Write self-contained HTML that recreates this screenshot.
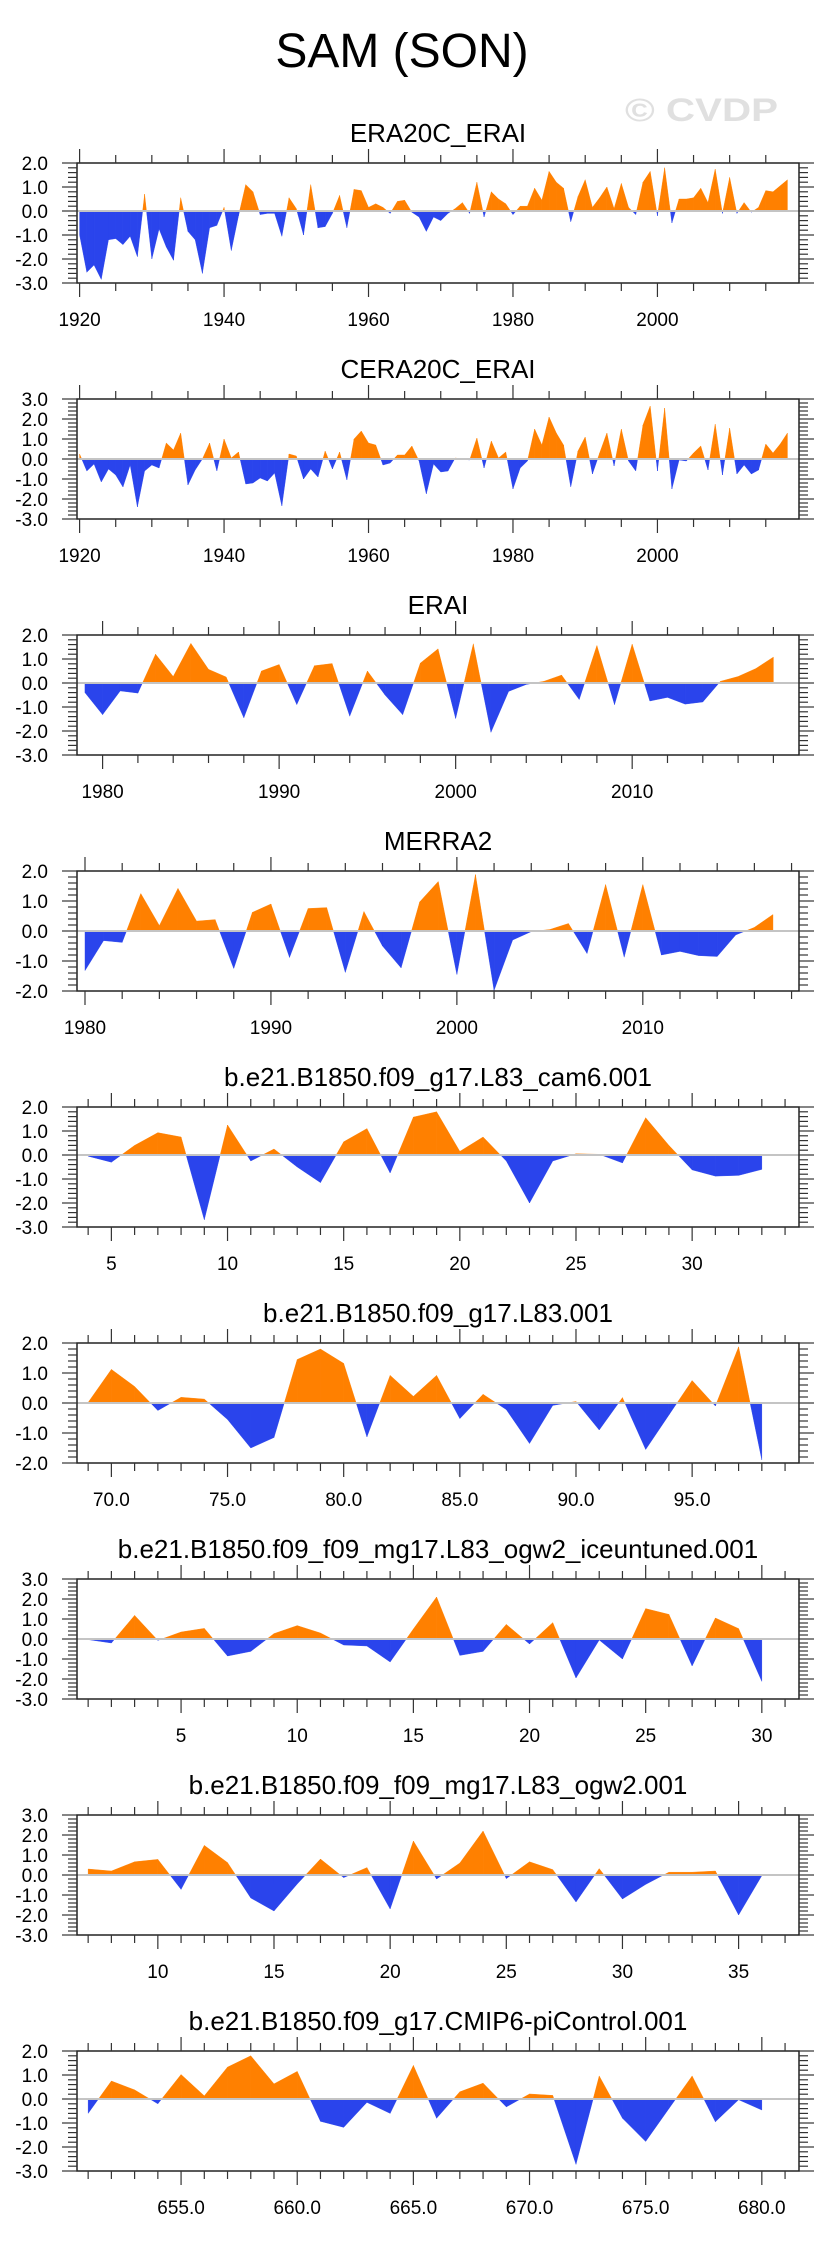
<!DOCTYPE html>
<html><head><meta charset="utf-8"><title>SAM (SON)</title>
<style>
html,body{margin:0;padding:0;background:#fff;}
svg{display:block;font-family:"Liberation Sans",Arial,sans-serif;}
</style></head>
<body>
<svg id="chart" width="829" height="2245" viewBox="0 0 829 2245" xmlns="http://www.w3.org/2000/svg">
<rect x="0" y="0" width="829" height="2245" fill="#fff"/>
<text x="402" y="67" font-size="48" text-anchor="middle" fill="#000">SAM (SON)</text>
<text x="625" y="121" font-size="32" font-weight="bold" fill="#e0e0e0" textLength="153" lengthAdjust="spacingAndGlyphs">© CVDP</text>
</svg>
<script>
// ---- data ----
const era20cYears = [];
for (let y = 1920; y <= 2018; y++) era20cYears.push(y);
const era20cValues = [-1.0,-2.55,-2.25,-2.85,-1.2,-1.15,-1.4,-1.05,-1.9,0.7,-2.0,-0.75,-1.5,-2.05,0.55,-0.85,-1.2,-2.6,-0.7,-0.6,0.15,-1.65,-0.2,1.1,0.8,-0.15,-0.1,-0.1,-1.05,0.55,0.1,-1.0,1.1,-0.7,-0.65,-0.1,0.65,-0.7,0.9,0.85,0.15,0.3,0.15,-0.1,0.4,0.45,-0.05,-0.25,-0.85,-0.25,-0.4,-0.1,0.1,0.35,-0.1,1.2,-0.25,0.8,0.5,0.3,-0.15,0.2,0.2,0.95,0.45,1.65,1.2,0.95,-0.45,0.6,1.3,0.15,0.55,1.0,0.1,1.15,0.15,-0.15,1.2,1.65,-0.2,1.8,-0.5,0.5,0.5,0.55,0.95,0.35,1.75,-0.1,1.4,-0.1,0.35,-0.05,0.15,0.85,0.8,1.05,1.3];
const cera20cYears = era20cYears;
const cera20cValues = [0.25,-0.6,-0.25,-1.15,-0.5,-0.8,-1.4,-0.3,-2.4,-0.6,-0.3,-0.45,0.8,0.45,1.3,-1.3,-0.55,0.0,0.8,-0.6,1.0,0.05,0.35,-1.25,-1.2,-0.95,-1.1,-0.7,-2.35,0.25,0.15,-1.0,-0.5,-0.9,0.4,-0.5,0.35,-1.05,1.0,1.4,0.8,0.7,-0.3,-0.2,0.2,0.2,0.65,-0.1,-1.75,-0.25,-0.65,-0.6,0.05,0.0,-0.05,1.05,-0.45,0.9,0.05,0.35,-1.5,-0.45,-0.1,1.5,0.7,2.1,1.3,0.7,-1.4,0.4,1.1,-0.75,0.3,1.3,-0.35,1.5,-0.1,-0.6,1.7,2.65,-0.6,2.55,-1.5,-0.05,-0.1,0.3,0.65,-0.55,1.75,-0.8,1.55,-0.75,-0.3,-0.75,-0.55,0.75,0.3,0.75,1.3];
const eraiYears = [];
for (let y = 1979; y <= 2018; y++) eraiYears.push(y);
const eraiValues = [-0.4,-1.32,-0.33,-0.42,1.2,0.27,1.65,0.57,0.25,-1.45,0.5,0.77,-0.9,0.72,0.81,-1.38,0.5,-0.5,-1.32,0.83,1.42,-1.48,1.63,-2.05,-0.35,-0.06,0.07,0.33,-0.69,1.56,-0.9,1.62,-0.75,-0.6,-0.88,-0.79,0.07,0.27,0.6,1.08];
const merra2Years = [];
for (let y = 1980; y <= 2017; y++) merra2Years.push(y);
const merra2Values = [-1.32,-0.32,-0.38,1.25,0.18,1.42,0.33,0.38,-1.25,0.62,0.9,-0.88,0.75,0.78,-1.38,0.65,-0.5,-1.23,0.97,1.65,-1.45,1.88,-1.98,-0.3,-0.02,0.05,0.25,-0.75,1.55,-0.87,1.55,-0.8,-0.68,-0.82,-0.85,-0.13,0.12,0.55];
const cam6Years = [];
for (let y = 4; y <= 33; y++) cam6Years.push(y);
const cam6Values = [-0.05,-0.3,0.4,0.93,0.75,-2.7,1.25,-0.25,0.25,-0.5,-1.15,0.55,1.1,-0.75,1.58,1.8,0.15,0.75,-0.25,-2.0,-0.25,0.05,0.03,-0.33,1.55,0.4,-0.62,-0.88,-0.85,-0.6];
const l83Years = [];
for (let y = 69; y <= 98; y++) l83Years.push(y);
const l83Values = [0.02,1.12,0.55,-0.25,0.19,0.13,-0.55,-1.5,-1.15,1.45,1.8,1.32,-1.13,0.92,0.22,0.92,-0.52,0.29,-0.22,-1.35,-0.08,0.05,-0.9,0.18,-1.55,-0.4,0.75,-0.1,1.87,-1.9];
const iceYears = [];
for (let y = 1; y <= 30; y++) iceYears.push(y);
const iceValues = [-0.03,-0.2,1.18,-0.07,0.35,0.53,-0.85,-0.62,0.27,0.67,0.3,-0.3,-0.35,-1.15,0.5,2.1,-0.82,-0.62,0.73,-0.25,0.82,-1.95,-0.05,-1.0,1.52,1.23,-1.35,1.05,0.52,-2.12];
const ogw2Years = [];
for (let y = 7; y <= 36; y++) ogw2Years.push(y);
const ogw2Values = [0.3,0.2,0.66,0.78,-0.72,1.48,0.62,-1.15,-1.8,-0.45,0.8,-0.13,0.37,-1.7,1.7,-0.2,0.6,2.2,-0.18,0.66,0.27,-1.35,0.32,-1.2,-0.47,0.14,0.14,0.2,-2.0,-0.03];
const piYears = [];
for (let y = 651; y <= 680; y++) piYears.push(y);
const piValues = [-0.6,0.75,0.38,-0.2,1.02,0.13,1.33,1.8,0.63,1.15,-0.93,-1.18,-0.14,-0.6,1.4,-0.8,0.3,0.66,-0.33,0.21,0.15,-2.72,0.96,-0.8,-1.77,-0.4,0.96,-0.95,-0.03,-0.46];

const panelTitles = ["ERA20C_ERAI","CERA20C_ERAI","ERAI","MERRA2","b.e21.B1850.f09_g17.L83_cam6.001","b.e21.B1850.f09_g17.L83.001","b.e21.B1850.f09_f09_mg17.L83_ogw2_iceuntuned.001","b.e21.B1850.f09_f09_mg17.L83_ogw2.001","b.e21.B1850.f09_g17.CMIP6-piControl.001"];
const panelXs = [era20cYears,cera20cYears,eraiYears,merra2Years,cam6Years,l83Years,iceYears,ogw2Years,piYears];
const panelYs = [era20cValues,cera20cValues,eraiValues,merra2Values,cam6Values,l83Values,iceValues,ogw2Values,piValues];
const xMins = [1919.64,1919.64,1978.55,1979.57,3.52,68.52,0.52,6.52,650.52];
const xMaxs = [2019.6,2019.6,2019.45,2018.4,34.6,99.6,31.6,37.6,681.6];
const yMins = [-3,-3,-3,-2,-3,-2,-3,-3,-3];
const yMaxs = [2,3,2,2,2,2,3,3,2];
const xMajorStart = [1920,1920,1980,1980,5,70,5,10,655];
const xMajorStep = [20,20,10,10,5,5,5,5,5];
const xMinorStep = [5,5,2,2,1,1,1,1,1];
const xLabelDecimals = [0,0,0,0,0,1,0,0,1];

// ---- drawing ----
const NS = "http://www.w3.org/2000/svg";
const svg = document.getElementById("chart");
const FL = 77, FR = 799, FH = 120, TOP0 = 163, GAP = 236;
const ORANGE = "#ff8000", BLUE = "#2a44ec";
function mk(tag, attrs, parent) {
  const e = document.createElementNS(NS, tag);
  for (const k in attrs) e.setAttribute(k, attrs[k]);
  parent.appendChild(e);
  return e;
}
function fmt(v, d) { return (Math.abs(v) < 1e-9 ? 0 : v).toFixed(d); }

for (let p = 0; p < 9; p++) {
  const top = TOP0 + p * GAP, bot = top + FH;
  const g = mk("g", {}, svg);
  
  
  const xs = v => FL + (v - xMins[p]) / (xMaxs[p] - xMins[p]) * (FR - FL);
  const ys = v => bot - (v - yMins[p]) / (yMaxs[p] - yMins[p]) * FH;

  const t = mk("text", {x: (FL + FR) / 2, y: top - 21, "font-size": 26, "text-anchor": "middle", fill: "#000"}, g);
  
  
  t.textContent = panelTitles[p];

  // fills
  const X = panelXs[p], Y = panelYs[p];
  const fillG = mk("g", {}, g);
  
  
  const z = ys(0);
  for (let i = 0; i < X.length - 1; i++) {
    const x0 = xs(X[i]), x1 = xs(X[i + 1]), v0 = Y[i], v1 = Y[i + 1];
    const y0 = ys(v0), y1 = ys(v1);
    if ((v0 >= 0 && v1 >= 0) || (v0 <= 0 && v1 <= 0)) {
      const pos = (v0 + v1) >= 0;
      const poly = mk("polygon", {points: `${x0},${z} ${x0},${y0} ${x1},${y1} ${x1},${z}`, fill: pos ? ORANGE : BLUE, stroke: pos ? ORANGE : BLUE, "stroke-width": 0.4}, fillG);
      
      
    } else {
      const f = v0 / (v0 - v1), xc = x0 + f * (x1 - x0);
      const a = mk("polygon", {points: `${x0},${z} ${x0},${y0} ${xc},${z}`, fill: v0 > 0 ? ORANGE : BLUE, stroke: v0 > 0 ? ORANGE : BLUE, "stroke-width": 0.4}, fillG);
      
      
      const b = mk("polygon", {points: `${xc},${z} ${x1},${y1} ${x1},${z}`, fill: v1 > 0 ? ORANGE : BLUE, stroke: v1 > 0 ? ORANGE : BLUE, "stroke-width": 0.4}, fillG);
      
      
    }
  }
  const zl = mk("line", {x1: FL, x2: FR, y1: z, y2: z, stroke: "#c4c4c4", "stroke-width": 2}, g);
  
  

  // frame
  const fr = mk("rect", {x: FL, y: top, width: FR - FL, height: FH, fill: "none", stroke: "#222", "stroke-width": 1.5}, g);
  
  

  // y ticks
  const tg = mk("g", {stroke: "#333", "stroke-width": 1.2}, g);
  
  
  const nMinor = Math.round((yMaxs[p] - yMins[p]) / 0.2);
  for (let k = 0; k <= nMinor; k++) {
    const v = yMins[p] + k * 0.2, yy = ys(v);
    const major = k % 5 === 0;
    const L = major ? 15 : 9;
    mk("line", {x1: FL - L, x2: FL, y1: yy, y2: yy}, tg);
    mk("line", {x1: FR, x2: FR + L, y1: yy, y2: yy}, tg);
    if (major) {
      const lab = mk("text", {x: 48, y: yy + 7, "font-size": 19, "text-anchor": "end", fill: "#000", stroke: "none"}, g);
      
      
      lab.textContent = fmt(v, 1);
    }
  }
  // x ticks
  const ms = xMinorStep[p];
  let start = Math.ceil(xMins[p] / ms) * ms;
  for (let v = start; v <= xMaxs[p] + 1e-9; v += ms) {
    const xx = xs(v);
    const major = Math.abs(((v - xMajorStart[p]) % xMajorStep[p])) < 1e-9 && v >= xMajorStart[p] - 1e-9;
    const L = major ? 14 : 8;
    mk("line", {x1: xx, x2: xx, y1: top - L, y2: top}, tg);
    mk("line", {x1: xx, x2: xx, y1: bot, y2: bot + L}, tg);
    if (major) {
      const lab = mk("text", {x: xx, y: bot + 43, "font-size": 19, "text-anchor": "middle", fill: "#000", stroke: "none"}, g);
      
      
      lab.textContent = fmt(v, xLabelDecimals[p]);
    }
  }
}
</script>
</body></html>
